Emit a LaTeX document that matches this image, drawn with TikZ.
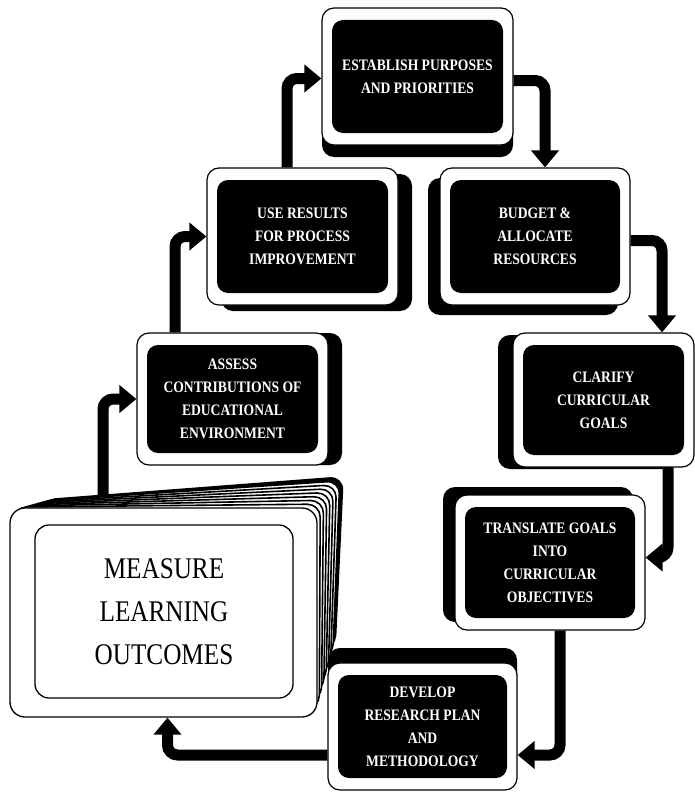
\documentclass[tikz,border=0pt]{standalone}
\usepackage{fontspec}
\setmainfont{Liberation Serif}
\newfontfamily\boxfont[FakeStretch=0.85]{Liberation Serif Bold}
\newfontfamily\bigfont[FakeStretch=0.84]{Liberation Serif}
\usetikzlibrary{arrows.meta,calc}

\tikzset{
  shadowbox/.style={fill=black, rounded corners=12pt, inner sep=0pt},
  framebox/.style={fill=white, draw=black, line width=1.2pt, rounded corners=12pt, inner sep=0pt},
  corebox/.style={fill=black, rounded corners=11pt, inner sep=0pt, text=white, align=center,
    font=\boxfont\fontsize{16}{23}\selectfont},
  flow/.style={line width=11pt, rounded corners=10pt, -{Triangle[width=27pt,length=17pt]}},
  cardedge/.style={draw=black, line width=1.6pt, rounded corners=13pt},
  mainframe/.style={fill=white, draw=black, line width=1.3pt, rounded corners=15pt, inner sep=0pt},
  maincore/.style={fill=white, draw=black, line width=1.3pt, rounded corners=14pt, inner sep=0pt,
    align=center, font=\bigfont\fontsize{30}{43}\selectfont},
}

% #1 name, #2 centre, #3 width, #4 height, #5 shadow offset, #6 label
\newcommand\procstep[6]{%
  \node[shadowbox, minimum width=#3pt, minimum height=#4pt] at ($(#2)+(#5)$) {};
  \node[framebox, minimum width=#3pt, minimum height=#4pt] (#1) at (#2) {};
  \node[corebox, minimum width=#3pt-20pt, minimum height=#4pt-24pt] (#1-core) at (#2) {#6};
}

\begin{document}
\begin{tikzpicture}[x=1pt,y=-1pt]
\useasboundingbox[fill=white] (0,0) rectangle (695,792);

% process steps around the cycle
\procstep{est}{417.5,76.5}{191}{137}{0,12}{ESTABLISH PURPOSES\\AND PRIORITIES}
\procstep{bud}{535,236.5}{190}{137}{-12,10}{BUDGET \&\\ALLOCATE\\RESOURCES}
\procstep{cla}{603.5,400}{181}{134}{-15,2}{CLARIFY\\CURRICULAR\\GOALS}
\procstep{tra}{550,562.5}{190}{135}{-12,-8}{TRANSLATE GOALS\\INTO\\CURRICULAR\\OBJECTIVES}
\procstep{dev}{422.5,726.5}{189}{127}{0,-15}{DEVELOP\\RESEARCH PLAN\\AND\\METHODOLOGY}
\procstep{ass}{232.5,399}{191}{132}{14,0}{ASSESS\\CONTRIBUTIONS OF\\EDUCATIONAL\\ENVIRONMENT}
\procstep{use}{302.5,236.5}{191}{137}{14,6}{USE RESULTS\\FOR PROCESS\\IMPROVEMENT}

% anchor of the card stack (front card), placed first so the riser hides behind it
\coordinate (mea-top) at (103,508);
\draw[flow] (mea-top) |- (ass.west);

% stack of cards behind the front card
\foreach \k in {8,7,...,1}{
  \pgfmathsetmacro\t{\k/8}
  \ifnum\k=8 \def\cardfill{black}\else\def\cardfill{white}\fi
  \filldraw[cardedge, fill=\cardfill]
    ($(10,508)!\t!(42,500)$) -- ($(317,508)!\t!(343,477)$) --
    ($(317,717)!\t!(335,648)$) -- ($(10,717)!\t!(42,700)$) -- cycle;
}

% front card
\node[mainframe, minimum width=307pt, minimum height=209pt] (mea) at (163.5,612.5) {};
\node[maincore, minimum width=258pt, minimum height=173pt] (mea-core) at (164,611.5)
  {MEASURE\\LEARNING\\OUTCOMES};

% connectors
\draw[flow] ($(ass.north)+(-57.5,0)$) |- (use.west);
\draw[flow] ($(use.north)+(-15.5,0)$) |- ($(est.west)+(0,2)$);
\draw[flow] ($(est.east)+(0,4)$) -| ($(bud.north)+(10,0)$);
\draw[flow] ($(bud.east)+(0,4)$) -| ($(cla.north)+(58.5,0)$);
\draw[flow] ($(cla.south)+(64.5,0)$) |- ($(tra.east)+(0,-5)$);
\draw[flow] ($(tra.south)+(10,0)$) |- ($(dev.east)+(0,28.5)$);
\draw[flow] ($(dev.west)+(0,28.5)$) -| ($(mea.south)+(4,0)$);
\end{tikzpicture}
\end{document}
